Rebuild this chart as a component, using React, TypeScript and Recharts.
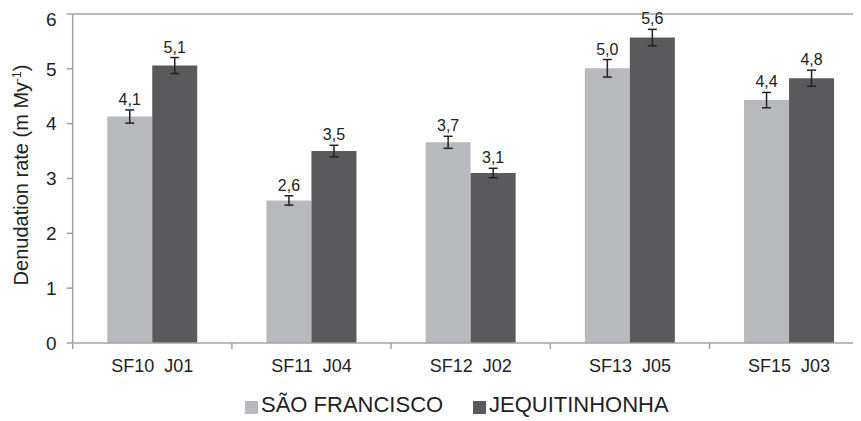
import * as React from 'react';
import { BarChart, Bar, XAxis, YAxis, ErrorBar, LabelList, Legend, ReferenceLine } from 'recharts';

// sample pairs (São Francisco / Jequitinhonha)
const categories = ['SF10  J01', 'SF11  J04', 'SF12  J02', 'SF13  J05', 'SF15  J03'];
const saoFrancisco = [4.13, 2.6, 3.66, 5.01, 4.43];
const saoFranciscoErr = [0.12, 0.085, 0.11, 0.16, 0.14];
const jequitinhonha = [5.06, 3.5, 3.1, 5.57, 4.83];
const jequitinhonhaErr = [0.146, 0.106, 0.086, 0.15, 0.146];
const yTicks = [0, 1, 2, 3, 4, 5, 6];
const seriesNames = ['SÃO FRANCISCO', 'JEQUITINHONHA'];

const LIGHT = '#b8b9bd';
const DARK = '#5a5a5c';
const AXIS = '#a3a3a3';
const TEXT = '#222';
const FONT = '"Liberation Sans", Arial, sans-serif';

const W = 870;
const H = 413;
const TOP = 6;
const PLOT_BOTTOM = 335;
const PLOT_LEFT = 64.7;
const PLOT_RIGHT = 860.7;
const PX_PER_UNIT = (PLOT_BOTTOM - TOP) / 6;
const BAND = (PLOT_RIGHT - PLOT_LEFT) / categories.length;

const data = categories.map((name, i) => ({
  name,
  sf: saoFrancisco[i],
  sfErr: saoFranciscoErr[i],
  jq: jequitinhonha[i],
  jqErr: jequitinhonhaErr[i],
}));

const fmt = (v: number) => v.toFixed(1).replace('.', ',');

const makeValueLabel = (errs: number[]) => (props: any) => {
  const { x, y, width, value, index } = props;
  const top = Number(y) - errs[index] * PX_PER_UNIT - 5;
  return (
    <text x={Number(x) + Number(width) / 2} y={top} textAnchor="middle" fontSize={16} fill={TEXT} fontFamily={FONT}>
      {fmt(Number(value))}
    </text>
  );
};

const CategoryTick = (props: any) => {
  const { x, payload, index } = props;
  const edge = x - BAND / 2;
  return (
    <g>
      <line x1={edge} x2={edge} y1={PLOT_BOTTOM} y2={PLOT_BOTTOM + 6} stroke={AXIS} strokeWidth={1.5} />
      {index === categories.length - 1 && (
        <line x1={x + BAND / 2} x2={x + BAND / 2} y1={PLOT_BOTTOM} y2={PLOT_BOTTOM + 6} stroke={AXIS} strokeWidth={1.5} />
      )}
      <text x={x} y={PLOT_BOTTOM + 29} textAnchor="middle" fontSize={18} fill={TEXT} fontFamily={FONT} style={{ whiteSpace: 'pre' }}>
        {payload.value}
      </text>
    </g>
  );
};

const YLabel = () => (
  <text transform="translate(19.5,167) rotate(-90)" textAnchor="middle" fontSize={20} fill={TEXT} fontFamily={FONT}>
    Denudation rate (m My<tspan dy={-7} fontSize={12}>-1</tspan>
    <tspan dy={7}>)</tspan>
  </text>
);

const LegendBox = () => (
  <div style={{ position: 'relative', height: 30, fontFamily: FONT, fontSize: 22, color: TEXT }}>
    {seriesNames.map((n, i) => (
      <div key={n} style={{ position: 'absolute', left: i === 0 ? 237 : 465, top: -1, height: 30, display: 'flex', alignItems: 'center', whiteSpace: 'nowrap' }}>
        <span style={{ display: 'inline-block', width: 13, height: 13, marginTop: 4, marginRight: 3, background: i === 0 ? LIGHT : DARK }} />
        {n}
      </div>
    ))}
  </div>
);

export default function App() {
  return (
    <div style={{ width: 853, height: 413, overflow: 'hidden', background: '#fff' }}>
      <BarChart
        width={W}
        height={H}
        data={data}
        margin={{ top: TOP, right: W - PLOT_RIGHT, left: 0, bottom: 0 }}
        barCategoryGap="21.7%"
        barGap={0}
      >
        <XAxis dataKey="name" height={48} stroke={AXIS} strokeWidth={1.5} tickLine={false} tick={<CategoryTick />} interval={0} />
        <YAxis
          width={PLOT_LEFT}
          domain={[0, 6]}
          ticks={yTicks}
          stroke={AXIS}
          strokeWidth={1.5}
          tickSize={6}
          tickMargin={10}
          tick={{ fontSize: 19, fill: TEXT, fontFamily: FONT }}
          label={<YLabel />}
        />
        <ReferenceLine y={6} stroke={AXIS} strokeWidth={1.5} />
        <Legend verticalAlign="bottom" content={<LegendBox />} wrapperStyle={{ left: 0, width: W, bottom: 0 }} />
        <Bar dataKey="sf" name={seriesNames[0]} fill={LIGHT} isAnimationActive={false}>
          <ErrorBar dataKey="sfErr" width={4.5} stroke={TEXT} strokeWidth={1.5} direction="y" />
          <LabelList dataKey="sf" content={makeValueLabel(saoFranciscoErr)} />
        </Bar>
        <Bar dataKey="jq" name={seriesNames[1]} fill={DARK} isAnimationActive={false}>
          <ErrorBar dataKey="jqErr" width={4.5} stroke={TEXT} strokeWidth={1.5} direction="y" />
          <LabelList dataKey="jq" content={makeValueLabel(jequitinhonhaErr)} />
        </Bar>
      </BarChart>
    </div>
  );
}
